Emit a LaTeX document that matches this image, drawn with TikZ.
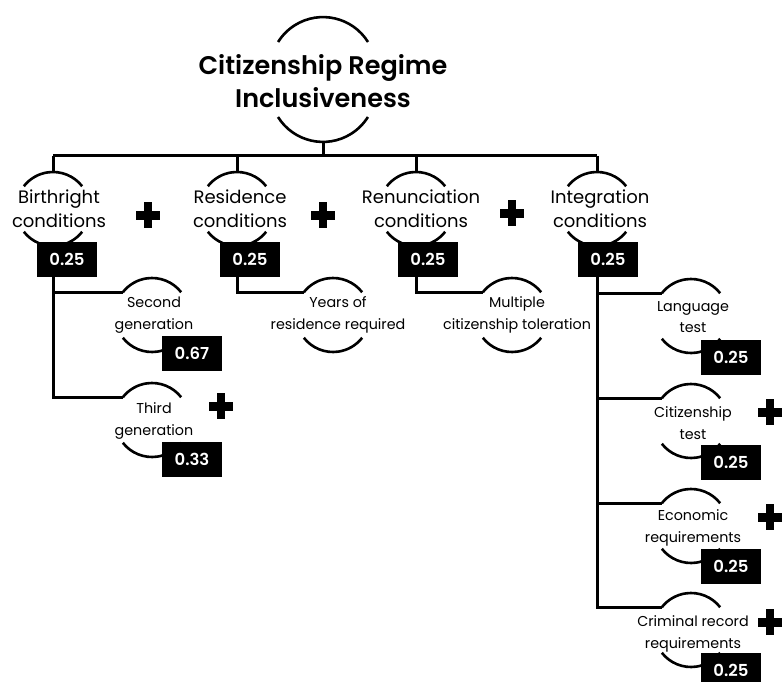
\documentclass[tikz,border=0pt]{standalone}
\usepackage{fontspec}
\setmainfont{Poppins}
\newfontfamily\semib{Poppins SemiBold}
\usetikzlibrary{calc}
\tikzset{
  x=1pt,y=1pt,
  conn/.style={line width=3pt},
  arcl/.style={line width=2.6pt},
  ttl/.style={inner sep=0pt,align=center,font=\fontsize{25.5}{33}\semib},
  lone/.style={inner sep=0pt,align=center,font=\fontsize{18}{24}\selectfont},
  ltwo/.style={inner sep=0pt,align=center,font=\fontsize{14.3}{21.5}\selectfont},
  wbox/.style={fill=black,text=white,minimum width=60pt,minimum height=35pt,inner sep=0pt,font=\fontsize{16.5}{18}\semib},
}
\newcommand\nodearcs[2]{%
  \draw[arcl] ($(#1)+(38:#2)$) arc[start angle=38,end angle=142,radius=#2];
  \draw[arcl] ($(#1)+(218:#2)$) arc[start angle=218,end angle=322,radius=#2];}
\newcommand\plusmark[1]{%
  \fill ($(#1)+(-12,-4.5)$) rectangle ++(24,9);
  \fill ($(#1)+(-4,-13)$) rectangle ++(8,26);}
\begin{document}
\begin{tikzpicture}
\useasboundingbox (0,0) rectangle (782,-682);
% ---------- root
\node[ttl] (root) at (323,-81) {Citizenship Regime\\Inclusiveness};
\draw[arcl] (368,-42) arc[start angle=32,end angle=148,radius=53];
\draw[arcl] (278,-117) arc[start angle=212,end angle=328,radius=53];
\coordinate (rb) at (323,-142);
\coordinate (bus) at (323,-156);
% ---------- level 1 centres
\coordinate (c1) at (53,-209);
\coordinate (c2) at (237,-209);
\coordinate (c3) at (416,-209);
\coordinate (c4) at (597,-209);
\foreach \c in {c1,c2,c3,c4}{\nodearcs{\c}{37}}
\node[lone] (n1) at (59,-209) {Birthright\\conditions};
\node[lone] (n2) at (240,-209) {Residence\\conditions};
\node[lone] (n3) at (421,-209) {Renunciation\\conditions};
\node[lone] (n4) at (600,-209) {Integration\\conditions};
\node[wbox] (b1) at (67,-259.5) {0.25};
\node[wbox] (b2) at (250,-259.5) {0.25};
\node[wbox] (b3) at (428,-259.5) {0.25};
\node[wbox] (b4) at (608,-259.5) {0.25};
% bus
\draw[conn] (rb) -- (bus);
\draw[conn] (53,-156) -- (597,-156);
\foreach \c in {c1,c2,c3,c4}{\draw[conn] ($(\c)+(0,53)$) -- ($(\c)+(0,37)$);}
% ---------- level 2 centres
\coordinate (s1) at (152,-315);
\coordinate (s2) at (152,-420);
\coordinate (s3) at (333,-315);
\coordinate (s4) at (512,-315);
\coordinate (s5) at (691,-316);
\coordinate (s6) at (691,-421);
\coordinate (s7) at (691,-526);
\coordinate (s8) at (691,-630);
\foreach \c in {s1,s2,s3,s4,s5,s6,s7,s8}{\nodearcs{\c}{37}}
\node[ltwo] (m1) at (154,-315) {Second\\generation};
\node[ltwo] (m2) at (154,-421) {Third\\generation};
\node[ltwo] (m3) at (338,-315) {Years of\\residence required};
\node[ltwo] (m4) at (517,-315) {Multiple\\citizenship toleration};
\node[ltwo] (m5) at (693,-317) {Language\\test};
\node[ltwo] (m6) at (693,-423) {Citizenship\\test};
\node[ltwo] (m7) at (693,-528) {Economic\\requirements};
\node[ltwo] (m8) at (693,-634) {Criminal record\\requirements};
\node[wbox] (d1) at (192,-353.5) {0.67};
\node[wbox] (d2) at (192,-459.5) {0.33};
\node[wbox] (d5) at (731,-357) {0.25};
\node[wbox] (d6) at (731,-462) {0.25};
\node[wbox] (d7) at (731,-566) {0.25};
\node[wbox] (d8) at (731,-670.5) {0.25};
% ---------- connectors level 1 -> level 2
\draw[conn] (b1.south -| c1) |- ($(s2)+(-29,23)$);
\draw[conn] (53,-292) -- ($(s1)+(-29,23)$);
\draw[conn] (b2.south -| c2) |- ($(s3)+(-29,23)$);
\draw[conn] (b3.south -| c3) |- ($(s4)+(-29,23)$);
\draw[conn] (b4.south -| c4) |- ($(s8)+(-29,23)$);
\draw[conn] (597,-293) -- ($(s5)+(-29,23)$);
\draw[conn] (597,-398) -- ($(s6)+(-29,23)$);
\draw[conn] (597,-503) -- ($(s7)+(-29,23)$);
% ---------- plus signs
\coordinate (p1) at (148,-215);
\coordinate (p2) at (323,-215);
\coordinate (p3) at (512,-213);
\coordinate (p4) at (221,-406);
\coordinate (p5) at (770,-412);
\coordinate (p6) at (770,-517);
\coordinate (p7) at (770,-622);
\foreach \p in {p1,p2,p3,p4,p5,p6,p7}{\plusmark{\p}}
\end{tikzpicture}
\end{document}
